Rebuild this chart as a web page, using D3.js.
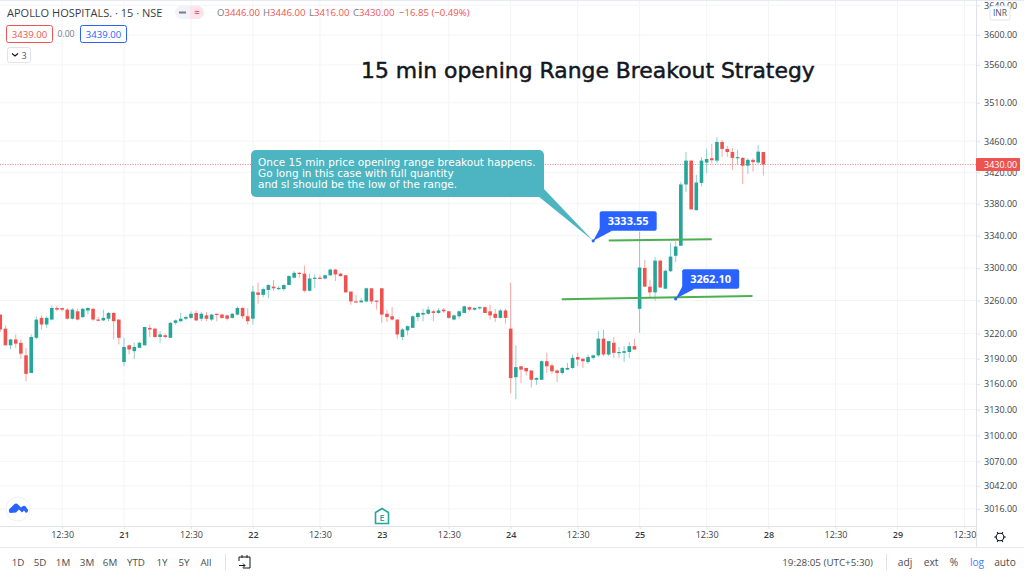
<!DOCTYPE html>
<html>

<head>
  <title>APOLLO HOSPITALS 15 min</title>
  <script src="https://d3js.org/d3.v7.min.js"></script>
  <style>
    body { margin: 0; background: #ffffff; overflow: hidden; }
    text { font-family: "Open Sans", sans-serif; }
    .tick text { font-size: 9px; fill: #131722; opacity: 0.85; }
    .tick line { stroke: #e0e3eb; }
    .domain { stroke: #e0e3eb; }
  </style>
</head>

<body>
<svg id="chart" width="1024" height="576"></svg>

<script>
  // candles (15 min bars, 25 a day)
  var opens = [
    3243,3226,3206,3213,3209,3194,3173,3215,3239,3231,
    3237,3251,3251,3249,3238,3247,3240,3248,3250,3237,
    3236,3238,3245,3237,3186,3206,3199,3203,3206,3227,
    3226,3216,3218,3215,3233,3235,3238,3239,3245,3238,
    3242,3237,3244,3243,3242,3239,3243,3251,3241,3238,
    3270,3267,3273,3277,3274.5,3274,3279,3288,3294,3293,
    3272,3287,3288,3287,3291,3298,3293,3291,3271,3259,
    3258,3259,3275,3260,3275,3244,3241,3237,3216,3224,
    3227,3240,3243,3244,3247,3245,3249,3247,3237,3241,
    3245,3252,3249,3251,3252,3247,3244,3239,3248,3226,
    3168,3181,3179,3176,3165,3165,3187,3182,3176,3173,
    3177,3179,3192,3190,3186,3191,3194,3214,3195,3209,
    3197,3197,3198,3205,3250,3300,3277,3270,3309,3274.5,
    3296,3315,3327.5,3404.5,3435,3372,3406.5,3432.5,3438,3435,
    3459,3450,3446,3438.5,3438.5,3428.5,3436,3432.5,3446
  ];
  var highs = [
    3243,3230,3214,3219,3213,3203,3219,3241,3242,3241,
    3254,3254,3251,3251,3251,3250,3251,3252,3251,3240,
    3249,3246,3246,3237,3215,3207,3209,3210,3228,3231,
    3227,3223,3220,3234,3237,3245,3242,3247,3248,3246,
    3246,3244,3244,3244,3243,3245,3253,3252,3251,3278,
    3282,3276,3280,3285,3278,3280,3291,3296,3295,3303,
    3293,3292,3291,3292,3299,3299,3294,3291,3271,3267,
    3263,3276,3275,3260,3275,3249,3252,3237,3227,3230,
    3242,3246,3250,3253,3249,3251,3251,3247,3243,3248,
    3254,3253,3252,3253,3253,3255,3250,3250,3250,3282,
    3206,3181,3179,3176,3168,3188,3197,3184,3177,3180,
    3185,3195,3197,3190,3195,3195,3223,3225,3211,3216,
    3204,3205,3210,3214,3345,3310,3285.5,3313.5,3310,3298,
    3331,3333,3408,3446,3435,3417,3439.5,3450,3456.5,3465,
    3461.5,3454,3451,3449,3439.5,3438,3438,3455,3446
  ];
  var lows = [
    3222,3206,3201,3203,3190,3163,3173,3213,3225,3227,
    3236,3247,3247,3237,3237,3236,3239,3243,3235,3235,
    3235,3235,3213,3207,3181,3195,3190,3203,3206,3216,
    3215,3209,3214,3215,3231,3234,3236,3238,3235,3235,
    3235,3235,3235,3238,3236,3238,3242,3238,3231,3231,
    3256,3264,3263,3272,3273,3272,3279,3287,3288,3270,
    3271,3275,3286,3286,3290,3284,3289,3270,3255,3258,
    3257,3258,3256,3249,3233,3234,3236,3214,3212,3218,
    3227,3235,3235,3243,3235,3244,3245,3238,3236,3238,
    3245,3247,3248,3249,3245,3237,3234,3238,3232,3149,
    3142,3161,3170,3156,3159,3165,3173,3172,3162,3171,
    3177,3178,3181,3179,3184,3189,3192,3193,3193,3191,
    3191,3186,3191,3201,3221,3277,3263,3260,3275.5,3274,
    3295,3307,3327,3395,3372.5,3371.5,3402,3419,3431.5,3431.5,
    3439.5,3440,3423,3430,3405,3418,3421,3431,3416
  ];
  var closes = [
    3225,3206,3213,3208,3196,3172,3216,3237,3231,3239,
    3251,3249,3249,3238,3249,3237,3250,3251,3237,3236,
    3239,3245,3235,3215,3204,3201,3204,3209,3228,3225,
    3216,3219,3216,3233,3236,3238,3240,3244,3236,3244,
    3238,3243,3243,3239,3238,3244,3251,3241,3235,3271,
    3267,3274,3279,3275,3275.5,3279,3290,3294,3293,3272,
    3287,3288,3287,3291,3298,3292,3290,3270,3259,3258,
    3260,3275,3259,3259,3243,3240,3237,3219,3225,3229,
    3241,3245,3245,3249,3245,3248,3247,3239,3242,3247,
    3253,3249,3251,3252,3245,3242,3239,3248,3239,3167,
    3180,3177,3175,3165,3167,3187,3181,3175,3173,3179,
    3179,3191,3189,3187,3192,3194,3214,3195,3211,3197,
    3198,3199,3205,3201,3300.5,3277,3270,3309,3276,3296.5,
    3314,3326.5,3404.5,3435,3373,3407,3435,3437,3435.5,3459,
    3450,3446,3438.5,3439.5,3428.5,3436,3433,3446.5,3430
  ];

  var priceTicks = [3640,3600,3560,3510,3460,3420,3380,3340,3300,3260,3220,3190,3160,3130,3100,3070,3042,3016];
  var timeTickBars = [12,24,37,49,62,74,87,99,112,124,137,149,162,174,187];
  var timeTickLabels = ["12:30","21","12:30","22","12:30","23","12:30","24","12:30","25","12:30","28","12:30","29","12:30"];
  var lastPrice = 3430;

  // drawings: bar number + price
  var rangeLines = [
    { x1: 118, p1: 3334, x2: 138, p2: 3335.5 },
    { x1: 108.9, p1: 3261.5, x2: 145.9, p2: 3265.6 }
  ];
  var priceNotes = [
    { bar: 115, price: 3333.55, text: "3333.55" },
    { bar: 131, price: 3262.10, text: "3262.10" }
  ];
  var noteLines = [
    "Once 15 min price opening range breakout happens.",
    "Go long in this case with full quantity",
    "and sl should be the low of the range."
  ];
  var ranges = ["1D","5D","1M","3M","6M","YTD","1Y","5Y","All"];
  var rangeX = [18,40,63,87,110,136,162,184,206];
  var rightBtns = ["adj","ext","%","log","auto"];
  var rightBtnX = [905,931,954,977,1005];

  var svg = d3.select("#chart");
  var paneRight = 976, paneBottom = 526, barBottom = 547;

  var x = d3.scaleLinear().domain([24, 149]).range([124, 768.5]);
  var y = d3.scaleLog().domain([3600, 3160]).range([35, 384]);

  var green = "#26a69a", red = "#ef5350", blue = "#2962ff", grid = "#f3f4f8", ink = "#131722";

  svg.append("defs").append("clipPath").attr("id", "pane")
     .append("rect").attr("width", paneRight).attr("height", paneBottom);

  // Grid
  var gridG = svg.append("g");
  gridG.selectAll(".h").data(priceTicks).enter().append("line")
       .attr("x1", 0).attr("x2", paneRight)
       .attr("y1", function(d) { return y(d); }).attr("y2", function(d) { return y(d); })
       .attr("stroke", grid);
  gridG.selectAll(".v").data(timeTickBars).enter().append("line")
       .attr("x1", function(d) { return x(d); }).attr("x2", function(d) { return x(d); })
       .attr("y1", 0).attr("y2", paneBottom)
       .attr("stroke", grid);

  // frame lines
  svg.append("line").attr("x1", 0).attr("x2", 1024).attr("y1", 0.5).attr("y2", 0.5).attr("stroke", "#e6e8f2");
  svg.append("line").attr("x1", 0).attr("x2", 1024).attr("y1", barBottom + 0.5).attr("y2", barBottom + 0.5).attr("stroke", "#e8eaf0");

  // last price line
  svg.append("line")
     .attr("x1", 0).attr("x2", paneRight)
     .attr("y1", y(lastPrice)).attr("y2", y(lastPrice))
     .attr("stroke", red).attr("stroke-width", 1).attr("stroke-dasharray", "1 1.5").attr("opacity", 0.7);

  // Candles
  var bars = opens.map(function(o, i) {
    return { i: i, o: o, h: highs[i], l: lows[i], c: closes[i] };
  });
  var candles = svg.append("g").attr("clip-path", "url(#pane)")
                   .selectAll("g").data(bars).enter().append("g");
  function colour(d) { return d.c >= d.o ? green : red; }

  candles.append("line")
         .attr("x1", function(d) { return x(d.i); }).attr("x2", function(d) { return x(d.i); })
         .attr("y1", function(d) { return y(d.h); }).attr("y2", function(d) { return y(d.l); })
         .attr("stroke", colour).attr("stroke-opacity", 0.5).attr("stroke-width", 1);
  candles.append("rect")
         .attr("x", function(d) { return x(d.i) - 1.8; })
         .attr("width", 3.6)
         .attr("y", function(d) { return y(Math.max(d.o, d.c)); })
         .attr("height", function(d) { return Math.max(1.2, y(Math.min(d.o, d.c)) - y(Math.max(d.o, d.c))); })
         .attr("fill", colour);

  // Axes
  var priceAxis = d3.axisRight(y).tickValues(priceTicks).tickFormat(d3.format(".2f")).tickSize(4).tickPadding(4);
  var yG = svg.append("g").attr("transform", "translate(" + paneRight + ",0)").call(priceAxis);
  yG.select(".domain").attr("d", "M0.5,0V" + barBottom);

  var timeAxis = d3.axisBottom(x).tickValues(timeTickBars)
                   .tickFormat(function(d, i) { return timeTickLabels[i]; }).tickSize(3).tickPadding(3);
  var xG = svg.append("g").attr("transform", "translate(0," + paneBottom + ")").call(timeAxis);
  xG.select(".domain").attr("d", "M0,0.5H" + paneRight);
  xG.selectAll(".tick text").filter(function(d, i) { return timeTickLabels[i] != "12:30"; }).style("font-weight", 600);

  // last price tag
  svg.append("rect").attr("x", paneRight).attr("y", y(lastPrice) - 6.5).attr("width", 44).attr("height", 13).attr("rx", 1).attr("fill", red);
  svg.append("text").attr("x", 984).attr("y", y(lastPrice) + 3.2).attr("fill", "#fff").style("font-size", "9px").text(lastPrice.toFixed(2));

  // INR box
  svg.append("rect").attr("x", 990).attr("y", 6).attr("width", 20).attr("height", 14).attr("rx", 2).attr("fill", "#fff").attr("stroke", "#e0e3eb");
  svg.append("text").attr("x", 1000).attr("y", 16).attr("text-anchor", "middle").attr("fill", "#50535e").style("font-size", "8.5px").text("INR");

  // Range lines
  svg.selectAll(".range").data(rangeLines).enter().append("line")
     .attr("x1", function(d) { return x(d.x1); }).attr("y1", function(d) { return y(d.p1); })
     .attr("x2", function(d) { return x(d.x2); }).attr("y2", function(d) { return y(d.p2); })
     .attr("stroke", "#4caf50").attr("stroke-width", 2);

  // Price notes (blue)
  priceNotes.forEach(function(n) {
    var tx = x(n.bar), ty = y(n.price);
    var g = svg.append("g").attr("transform", "translate(" + tx + "," + ty + ")");
    g.append("path").attr("d", "M0,0L7,-13L19,-10Z").attr("fill", blue);
    g.append("rect").attr("x", 6.5).attr("y", -29.5).attr("width", 57).attr("height", 19.5).attr("rx", 2).attr("fill", blue);
    g.append("text").attr("x", 35).attr("y", -15.5).attr("text-anchor", "middle").attr("fill", "#fff")
     .style("font-size", "11px").style("font-weight", 700).text(n.text);
    g.append("circle").attr("r", 1.6).attr("fill", blue);
  });

  // Callout
  var tipX = x(priceNotes[0].bar), tipY = y(priceNotes[0].price);
  var callout = svg.append("g");
  callout.append("path").attr("d", "M538,196L544,189L" + tipX + "," + tipY + "Z").attr("fill", "#4cb5c1");
  callout.append("rect").attr("x", 251).attr("y", 150).attr("width", 293).attr("height", 47).attr("rx", 5).attr("fill", "#4cb5c1");
  callout.selectAll("text").data(noteLines).enter().append("text")
         .attr("x", 258).attr("y", function(d, i) { return 166 + i * 11; })
         .attr("fill", "#fff")
         .style("font-family", "'DejaVu Sans'").style("font-size", "10.5px")
         .text(function(d) { return d; });

  // Title
  svg.append("text").attr("x", 361).attr("y", 78)
     .attr("fill", "#131722").attr("stroke", "#131722").attr("stroke-width", 0.5)
     .style("font-family", "'DejaVu Sans'").style("font-size", "21.9px")
     .text("15 min opening Range Breakout Strategy");

  // Legend
  svg.append("text").attr("x", 7).attr("y", 17).attr("fill", ink).attr("opacity", 0.85)
     .style("font-size", "11px").text("APOLLO HOSPITALS. \u00b7 15 \u00b7 NSE");
  svg.append("rect").attr("x", 175).attr("y", 6).attr("width", 29).attr("height", 13).attr("rx", 6.5).attr("fill", "#f0f3fa");
  svg.append("path").attr("d", "M190,6h7.5a6.5,6.5 0 0 1 0,13h-7.5Z").attr("fill", "#fce4ec");
  svg.append("rect").attr("x", 179).attr("y", 11.5).attr("width", 7).attr("height", 2).attr("fill", "#787b86");
  svg.append("text").attr("x", 197).attr("y", 16).attr("text-anchor", "middle").attr("fill", "#e91e63").style("font-size", "10px").text("\u2248");

  var ohlcNames = ["O","H","L","C"];
  var ohlcX = [217,263,309,353];
  var ohlcVals = [opens[148], highs[148], lows[148], closes[148]];
  ohlcNames.forEach(function(n, i) {
    var t = svg.append("text").attr("x", ohlcX[i]).attr("y", 16).style("font-size", "9.6px");
    t.append("tspan").attr("fill", "#787b86").text(n);
    t.append("tspan").attr("fill", red).text(ohlcVals[i].toFixed(2));
  });
  svg.append("text").attr("x", 399).attr("y", 16).attr("fill", red).style("font-size", "9.6px").text("\u221216.85 (\u22120.49%)");

  svg.append("rect").attr("x", 6.5).attr("y", 25.5).attr("width", 46).attr("height", 17).attr("rx", 2).attr("fill", "#fff").attr("stroke", red);
  svg.append("text").attr("x", 29.5).attr("y", 37.5).attr("text-anchor", "middle").attr("fill", red).style("font-size", "9.6px").text("3439.00");
  svg.append("text").attr("x", 66).attr("y", 37).attr("text-anchor", "middle").attr("fill", "#787b86").style("font-size", "8.6px").text("0.00");
  svg.append("rect").attr("x", 80.5).attr("y", 25.5).attr("width", 46).attr("height", 17).attr("rx", 2).attr("fill", "#fff").attr("stroke", blue);
  svg.append("text").attr("x", 103.5).attr("y", 37.5).attr("text-anchor", "middle").attr("fill", blue).style("font-size", "9.6px").text("3439.00");
  svg.append("rect").attr("x", 7.5).attr("y", 47.5).attr("width", 23).attr("height", 15).attr("rx", 2).attr("fill", "#fff").attr("stroke", "#e0e3eb");
  svg.append("path").attr("d", "M12,53.5l3,2.5l3,-2.5").attr("fill", "none").attr("stroke", "#131722").attr("stroke-width", 1.2);
  svg.append("text").attr("x", 24).attr("y", 59).attr("text-anchor", "middle").attr("fill", "#50535e").style("font-size", "9px").text("3");

  // Logo + E marker
  svg.append("circle").attr("cx", 18).attr("cy", 509).attr("r", 12).attr("fill", "#fff").attr("stroke", "#eef0f5").attr("stroke-width", 1);
  svg.append("path").attr("d", "M10,513a3,3 0 0 1 0.5,-5l3.5,-3.5a3,3 0 0 1 4,0l3,3l2,-1.5a2.5,2.5 0 0 1 3,1l1,1.5a2.5,2.5 0 0 1 -1,4.5l-2,-2.5l-2,2l-3,-3l-3,3Z").attr("fill", blue);
  svg.append("path").attr("d", "M375.5,512.5L382,508.5L388.5,512.5V523.5H375.5Z").attr("fill", "#fff").attr("stroke", green).attr("stroke-width", 1.6);
  svg.append("text").attr("x", 382).attr("y", 520.5).attr("text-anchor", "middle").attr("fill", green).style("font-size", "9px").style("font-weight", 600).text("E");

  // Bottom bar
  svg.selectAll(".rng").data(ranges).enter().append("text")
     .attr("x", function(d, i) { return rangeX[i]; }).attr("y", 566).attr("text-anchor", "middle")
     .attr("fill", "#131722").attr("opacity", 0.8).style("font-size", "9.8px")
     .text(function(d) { return d; });
  svg.append("line").attr("x1", 225.5).attr("x2", 225.5).attr("y1", 554).attr("y2", 570).attr("stroke", "#e0e3eb");
  svg.append("path").attr("d", "M239,561V557H250V568H243M242,555V558M247,555V558M239,565.5H245M243,563.5l2,2l-2,2")
     .attr("fill", "none").attr("stroke", "#131722").attr("stroke-width", 1);
  svg.append("text").attr("x", 873).attr("y", 566).attr("text-anchor", "end").attr("fill", "#131722").attr("opacity", 0.8)
     .style("font-size", "9.8px").text("19:28:05 (UTC+5:30)");
  svg.append("line").attr("x1", 886.5).attr("x2", 886.5).attr("y1", 554).attr("y2", 570).attr("stroke", "#e0e3eb");
  svg.selectAll(".btn").data(rightBtns).enter().append("text")
     .attr("x", function(d, i) { return rightBtnX[i]; }).attr("y", 566).attr("text-anchor", "middle")
     .attr("fill", function(d) { return d == "log" ? blue : "#131722"; })
     .attr("opacity", function(d) { return d == "log" ? 0.85 : 0.8; })
     .style("font-size", "10.2px")
     .text(function(d) { return d; });

  // gear
  var gear = svg.append("g").attr("transform", "translate(1000,537)");
  gear.append("circle").attr("r", 3.8).attr("fill", "none").attr("stroke", "#131722").attr("stroke-width", 1.1);
  d3.range(0, 6).forEach(function(k) {
    var a = k * Math.PI / 3;
    gear.append("line").attr("x1", 3.8 * Math.cos(a)).attr("y1", 3.8 * Math.sin(a))
        .attr("x2", 5.6 * Math.cos(a)).attr("y2", 5.6 * Math.sin(a))
        .attr("stroke", "#131722").attr("stroke-width", 1.2);
  });
</script>
</body>

</html>
